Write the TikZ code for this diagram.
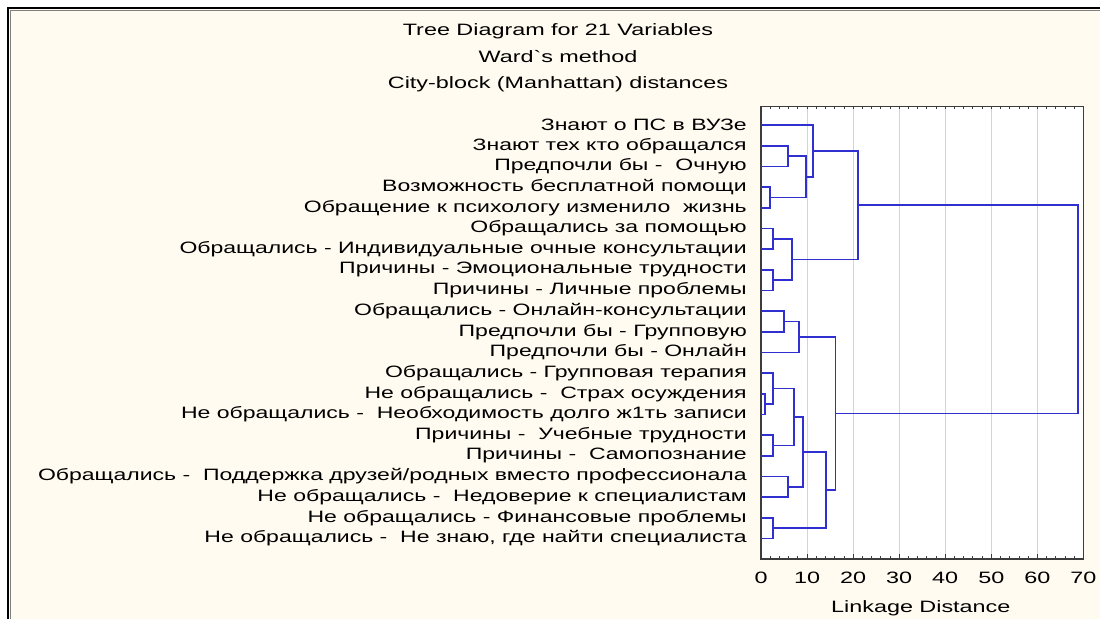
\documentclass[tikz,border=0pt]{standalone}
\usepackage{fontspec}
\setmainfont{Liberation Sans}
\definecolor{paper}{RGB}{255,251,240}
\definecolor{linkblue}{RGB}{48,48,208}
\definecolor{gridgray}{RGB}{212,212,212}
\definecolor{boxgray}{RGB}{60,60,60}
\tikzset{
  txt/.style={font=\fontsize{11.7}{14}\selectfont, xscale=1.42, inner sep=0pt, outer sep=0pt},
  leaf/.style={txt, xscale=0.985, anchor=east},
  link/.style={draw=linkblue, line width=1.2pt},
  ticks/.style={draw=boxgray, line width=0.5pt}
}
\begin{document}
\begin{tikzpicture}[x=0.025cm, y=-0.025cm]
\useasboundingbox (0,0) rectangle (1100,619);
\fill[white] (0,0) rectangle (1100,619);
\fill[paper] (9,8) rectangle (1100,619);
\draw[black, line width=2.1pt] (1100,8) -- (8,8) -- (8,619);
\draw[gray, line width=0.5pt] (1100,10.5) -- (10.5,10.5) -- (10.5,619);
\node[txt] (title1) at (558,31) {Tree Diagram for 21 Variables};
\node[txt] (title2) at (558,57) {Ward\textasciigrave s method};
\node[txt] (title3) at (558,84) {City-block (Manhattan) distances};
\begin{scope}[shift={(761,104.33)}, x=0.1151cm, y=-0.51675cm]
\fill[white] (0,0.1) rectangle (70,22);
\draw[gridgray, line width=0.6pt, xstep=10, ystep=100] (5,0.1) grid (65,22);
\draw[ticks, xstep=2, ystep=100] (0,21.86) grid (70,22);
\draw[ticks, xstep=10, ystep=100] (0,21.77) grid (70,22);
\draw[ticks, xstep=2, ystep=100] (0,0.1) grid (70,0.24);
\draw[ticks, xstep=100, ystep=1] (69.3,1) grid (70,21);
\draw[boxgray, line width=1pt] (0,0.1) rectangle (70,22);
% axis
\node[txt] (x0) at (0,22.92) {0};
\node[txt] (x10) at (10,22.92) {10};
\node[txt] (x20) at (20,22.92) {20};
\node[txt] (x30) at (30,22.92) {30};
\node[txt] (x40) at (40,22.92) {40};
\node[txt] (x50) at (50,22.92) {50};
\node[txt] (x60) at (60,22.92) {60};
\node[txt] (x70) at (70,22.92) {70};
\node[txt] (xlabel) at (34.7,24.37) {Linkage Distance};
% leaves
\coordinate (L1) at (0,1);
\coordinate (L2) at (0,2);
\coordinate (L3) at (0,3);
\coordinate (L4) at (0,4);
\coordinate (L5) at (0,5);
\coordinate (L6) at (0,6);
\coordinate (L7) at (0,7);
\coordinate (L8) at (0,8);
\coordinate (L9) at (0,9);
\coordinate (L10) at (0,10);
\coordinate (L11) at (0,11);
\coordinate (L12) at (0,12);
\coordinate (L13) at (0,13);
\coordinate (L14) at (0,14);
\coordinate (L15) at (0,15);
\coordinate (L16) at (0,16);
\coordinate (L17) at (0,17);
\coordinate (L18) at (0,18);
\coordinate (L19) at (0,19);
\coordinate (L20) at (0,20);
\coordinate (L21) at (0,21);
\node[leaf] (t1) at (-3.1,1) {Знают о ПС в ВУЗе};
\node[leaf] (t2) at (-3.1,2) {Знают тех кто обращался};
\node[leaf] (t3) at (-3.1,3) {Предпочли бы - \ Очную};
\node[leaf] (t4) at (-3.1,4) {Возможность бесплатной помощи};
\node[leaf] (t5) at (-3.1,5) {Обращение к психологу изменило \ жизнь};
\node[leaf] (t6) at (-3.1,6) {Обращались за помощью};
\node[leaf] (t7) at (-3.1,7) {Обращались - Индивидуальные очные консультации};
\node[leaf] (t8) at (-3.1,8) {Причины - Эмоциональные трудности};
\node[leaf] (t9) at (-3.1,9) {Причины - Личные проблемы};
\node[leaf] (t10) at (-3.1,10) {Обращались - Онлайн-консультации};
\node[leaf] (t11) at (-3.1,11) {Предпочли бы - Групповую};
\node[leaf] (t12) at (-3.1,12) {Предпочли бы - Онлайн};
\node[leaf] (t13) at (-3.1,13) {Обращались - Групповая терапия};
\node[leaf] (t14) at (-3.1,14) {Не обращались - \ Страх осуждения};
\node[leaf] (t15) at (-3.1,15) {Не обращались - \ Необходимость долго ж1ть записи};
\node[leaf] (t16) at (-3.1,16) {Причины - \ Учебные трудности};
\node[leaf] (t17) at (-3.1,17) {Причины - \ Самопознание};
\node[leaf] (t18) at (-3.1,18) {Обращались - \ Поддержка друзей/родных вместо профессионала};
\node[leaf] (t19) at (-3.1,19) {Не обращались - \ Недоверие к специалистам};
\node[leaf] (t20) at (-3.1,20) {Не обращались - Финансовые проблемы};
\node[leaf] (t21) at (-3.1,21) {Не обращались - \ Не знаю, где найти специалиста};
% clusters
\coordinate (k23) at (5.8,2.5);
\coordinate (k45) at (1.95,4.5);
\coordinate (k25) at (9.77,3.5);
\coordinate (k15) at (11.36,2.25);
\coordinate (k67) at (2.67,6.5);
\coordinate (k89) at (2.67,8.5);
\coordinate (k69) at (6.8,7.5);
\coordinate (kA) at (21.1,4.875);
\coordinate (k1011) at (5.0,10.5);
\coordinate (k1012) at (8.3,11.25);
\coordinate (k1415) at (0.87,14.5);
\coordinate (k1315) at (2.67,13.75);
\coordinate (k1617) at (2.67,16.5);
\coordinate (k1317) at (7.17,15.125);
\coordinate (k1819) at (5.8,18.5);
\coordinate (k1319) at (9.05,16.8125);
\coordinate (k2021) at (2.67,20.5);
\coordinate (k1321) at (14.05,18.656);
\coordinate (kB) at (16.2,14.953);
\coordinate (root) at (68.9,9.914);
\draw[link] (L2) -| (k23) |- (L3);
\draw[link] (L4) -| (k45) |- (L5);
\draw[link] (k23) -| (k25) |- (k45);
\draw[link] (L1) -| (k15) |- (k25);
\draw[link] (L6) -| (k67) |- (L7);
\draw[link] (L8) -| (k89) |- (L9);
\draw[link] (k67) -| (k69) |- (k89);
\draw[link] (k15) -| (kA) |- (k69);
\draw[link] (L10) -| (k1011) |- (L11);
\draw[link] (k1011) -| (k1012) |- (L12);
\draw[link] (L14) -| (k1415) |- (L15);
\draw[link] (L13) -| (k1315) |- (k1415);
\draw[link] (L16) -| (k1617) |- (L17);
\draw[link] (k1315) -| (k1317) |- (k1617);
\draw[link] (L18) -| (k1819) |- (L19);
\draw[link] (k1317) -| (k1319) |- (k1819);
\draw[link] (L20) -| (k2021) |- (L21);
\draw[link] (k1319) -| (k1321) |- (k2021);
\draw[link] (k1012) -| (kB) |- (k1321);
\draw[link] (kA) -| (root) |- (kB);
\end{scope}
\end{tikzpicture}
\end{document}
